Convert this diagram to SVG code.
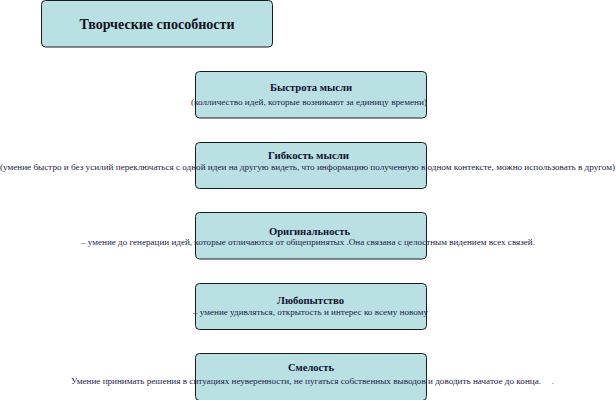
<svg xmlns="http://www.w3.org/2000/svg" width="616" height="400" viewBox="0 0 616 400">
<style>
.box{fill:#b9e0e3;stroke:#1a1a1a;stroke-width:1}
.t{font-family:"Liberation Serif","Times New Roman",serif;font-weight:bold;fill:#111122;text-anchor:middle}
.h{font-family:"Liberation Serif","Times New Roman",serif;font-weight:bold;font-size:10px;fill:#111133;text-anchor:middle}
.d{font-family:"Liberation Serif","Times New Roman",serif;font-size:8px;fill:#1c1c4a;text-anchor:middle}
</style>
<rect width="616" height="400" fill="#ffffff"/>
<g id="root">
<rect class="box" x="41.5" y="0.5" width="231" height="46.5" rx="4"/>
<text class="t" x="157" y="29" font-size="14" textLength="155" lengthAdjust="spacingAndGlyphs">Творческие способности</text>
</g>
<g id="node1">
<rect class="box" x="195.5" y="71.5" width="231" height="46.5" rx="4"/>
<text class="h" x="311" y="91" textLength="82" lengthAdjust="spacingAndGlyphs">Быстрота мысли</text>
<text class="d" x="309" y="105" textLength="236" lengthAdjust="spacingAndGlyphs">(колличество идей, которые возникают за единицу времени)</text>
</g>
<g id="node2">
<rect class="box" x="195.5" y="142.5" width="231" height="46" rx="4"/>
<text class="h" x="308.5" y="158.5" textLength="81" lengthAdjust="spacingAndGlyphs">Гибкость мысли</text>
<text class="d" x="307.5" y="170" textLength="615" lengthAdjust="spacingAndGlyphs">(умение быстро и  без усилий переключаться с одной идеи на другую видеть, что информацию полученную в одном контексте, можно использовать в другом)</text>
</g>
<g id="node3">
<rect class="box" x="195.5" y="212.5" width="231" height="46.5" rx="4"/>
<text class="h" x="309.5" y="234.5" textLength="81" lengthAdjust="spacingAndGlyphs">Оригинальность</text>
<text class="d" x="308" y="245" textLength="454" lengthAdjust="spacingAndGlyphs">– умение до генерации идей, которые отличаются от общепринятых .Она связана с целостным видением всех связей.</text>
</g>
<g id="node4">
<rect class="box" x="195.5" y="283.5" width="231" height="46" rx="4"/>
<text class="h" x="310.5" y="303.5" textLength="67" lengthAdjust="spacingAndGlyphs">Любопытство</text>
<text class="d" x="310.5" y="315" textLength="235" lengthAdjust="spacingAndGlyphs">–  умение удивляться, открытость и интерес ко всему новому</text>
</g>
<g id="node5">
<rect class="box" x="195.5" y="353.5" width="231" height="47" rx="4"/>
<text class="h" x="311" y="370.5" textLength="46" lengthAdjust="spacingAndGlyphs">Смелость</text>
<text class="d" x="306" y="384" textLength="470" lengthAdjust="spacingAndGlyphs">Умение принимать решения в ситуациях неуверенности, не пугаться собственных выводов и доводить начатое до конца.</text>
<text class="d" x="553" y="384">.</text>
</g>
<g id="connectors"></g>
</svg>
